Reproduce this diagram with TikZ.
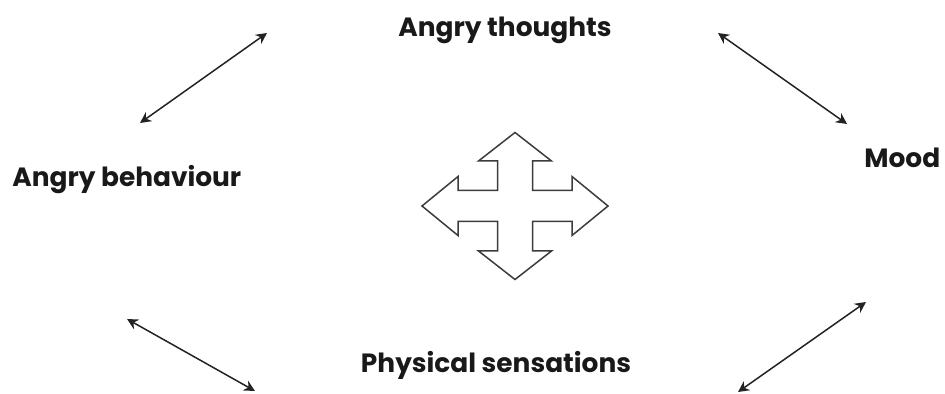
\documentclass[tikz,border=0pt]{standalone}
\usepackage{fontspec}
\setmainfont{Poppins}
\usepackage{tikz}
\usetikzlibrary{arrows.meta, positioning}
\definecolor{lineGray}{RGB}{35,35,35}
\definecolor{crossGray}{RGB}{60,60,60}

\begin{document}
\begin{tikzpicture}[
  x=0.5pt, y=-0.5pt,
  label/.style={
    inner sep=0pt,
    font=\fontsize{13.2}{15}\selectfont\bfseries,
    text=black!90
  },
  arr/.style={{Stealth[length=5.5pt,width=5.5pt]}-{Stealth[length=5.5pt,width=5.5pt]}, line width=0.75pt, color=lineGray},
  crossline/.style={draw=crossGray, line width=0.75pt, fill=white, line join=miter},
]

\useasboundingbox (0,0) rectangle (945,394);

% the four labels
\node[label, anchor=base] (thoughts) at (505,37) {Angry thoughts};
\node[label, anchor=base west] (behaviour) at (12,187) {Angry behaviour};
\node[label, anchor=base west] (mood) at (864,168) {Mood};
\node[label, anchor=base] (sensations) at (496,372) {Physical sensations};

% free ends of the connectors
\coordinate (tlA) at (140,123);
\coordinate (tlB) at (267,33);
\coordinate (trA) at (718,33);
\coordinate (trB) at (847,124);
\coordinate (blA) at (127,319);
\coordinate (blB) at (255,391);
\coordinate (brA) at (738,392);
\coordinate (brB) at (866,302);

\draw[arr] (tlA) -- (tlB);
\draw[arr] (trA) -- (trB);
\draw[arr] (blA) -- (blB);
\draw[arr] (brA) -- (brB);

% four-way arrow in the middle
\coordinate (hub) at (515,206);
\draw[crossline, shift={(hub)}]
  (0,-73.5) -- (36.5,-45) -- (17.5,-45) -- (17.5,-15.5)
  -- (57,-15.5) -- (57,-29.5) -- (93,0) -- (57,29.5) -- (57,15.5)
  -- (17.5,15.5) -- (17.5,45) -- (36.5,45) -- (0,73.5) -- (-36.5,45)
  -- (-17.5,45) -- (-17.5,15.5) -- (-57,15.5) -- (-57,29.5) -- (-93,0)
  -- (-57,-29.5) -- (-57,-15.5) -- (-17.5,-15.5) -- (-17.5,-45)
  -- (-36.5,-45) -- cycle;

\end{tikzpicture}
\end{document}
